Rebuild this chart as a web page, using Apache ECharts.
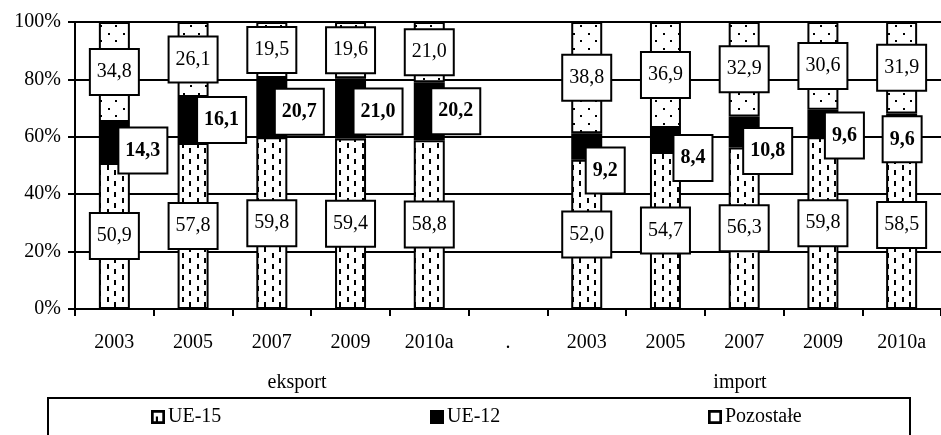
<!DOCTYPE html>
<html>
<head>
<meta charset="utf-8">
<script src="https://cdn.jsdelivr.net/npm/echarts@6/dist/echarts.min.js"></script>
<style>
html, body { margin: 0; padding: 0; background: #fff; }
#chart { width: 941px; height: 435px; }
</style>
</head>
<body>
<div id="chart"></div>
<script>
var categories = ['2003', '2005', '2007', '2009', '2010a', '.', '2003', '2005', '2007', '2009', '2010a'];
var ue15 = [50.9, 57.8, 59.8, 59.4, 58.8, '-', 52.0, 54.7, 56.3, 59.8, 58.5];
var ue12 = [14.3, 16.1, 20.7, 21.0, 20.2, '-', 9.2, 8.4, 10.8, 9.6, 9.6];
var pozostale = [34.8, 26.1, 19.5, 19.6, 21.0, '-', 38.8, 36.9, 32.9, 30.6, 31.9];
var groups = ['eksport', 'import'];
var seriesNames = ['UE-15', 'UE-12', 'Pozostałe'];

// where the bold UE-12 boxes sit, relative to the middle of the black segment
var ue12Shift = [[5, 8], [5, 0], [4, 4], [4, 3], [3, 0], [0, 0], [0, 24], [9, 18], [0, 19], [3, 12], [-18, 12]];

var font = 'Liberation Serif, Times New Roman, serif';
var fs = 20;

function makePattern(draw, w, h) {
    var c = document.createElement('canvas');
    c.width = w; c.height = h;
    var ctx = c.getContext('2d');
    ctx.fillStyle = '#fff';
    ctx.fillRect(0, 0, w, h);
    ctx.fillStyle = '#000';
    draw(ctx);
    return {image: c, repeat: 'repeat'};
}

var dashFill = makePattern(function (ctx) {
    ctx.fillRect(2, 0, 2, 5);
    ctx.fillRect(2, 11, 2, 5);
    ctx.fillRect(9, 5, 2, 5);
    ctx.fillRect(9, 16, 2, 5);
}, 15, 22);

var dotFill = makePattern(function (ctx) {
    ctx.fillRect(3, 3, 2, 2);
    ctx.fillRect(10, 10, 2, 2);
}, 15, 15);

function fmt(p) {
    return p.value.toFixed(1).replace('.', ',');
}

var boxLabel = {
    show: true,
    color: '#000',
    fontFamily: font,
    fontSize: fs,
    lineHeight: 20,
    backgroundColor: '#fff',
    borderColor: '#000',
    borderWidth: 2,
    padding: [12, 6, 12, 6],
    formatter: fmt
};

var ue12Data = ue12.map(function (v, i) {
    if (v === '-') return {value: v};
    return {value: v, label: {offset: ue12Shift[i]}};
});

var myChart = echarts.init(document.getElementById('chart'));

// hollow frames for the legend keys, as in the source
var frame = 'M0,0H13V13H0Z M2.5,2.5V10.5H10.5V2.5Z';
var legendIcons = [
    'path://' + frame + ' M4.5,6H6.5V10.5H4.5Z',
    'rect',
    'path://' + frame
];

option = {
    animation: false,
    textStyle: {fontFamily: font},
    grid: {left: 75, right: -6, top: 22, bottom: 126},
    xAxis: {
        type: 'category',
        data: categories,
        axisLine: {lineStyle: {color: '#000', width: 2}},
        axisTick: {show: true, length: 7, lineStyle: {color: '#000', width: 2}},
        axisLabel: {color: '#000', fontFamily: font, fontSize: fs, margin: 24, interval: 0}
    },
    yAxis: {
        type: 'value',
        min: 0,
        max: 100,
        interval: 20,
        axisLine: {show: true, lineStyle: {color: '#000', width: 2}},
        axisTick: {show: true, length: 7, lineStyle: {color: '#000', width: 2}},
        axisLabel: {color: '#000', fontFamily: font, fontSize: fs, margin: 14, formatter: '{value}%'},
        splitLine: {lineStyle: {color: '#000', width: 2}}
    },
    legend: [151, 430, 708].map(function (x, i) {
        return {
            left: x,
            top: 407,
            data: [{name: seriesNames[i], icon: legendIcons[i], itemStyle: {color: '#000', borderWidth: 0}}],
            itemWidth: 14,
            itemHeight: 14,
            itemGap: 3,
            padding: 0,
            textStyle: {color: '#000', fontFamily: font, fontSize: fs, padding: [0, 0, 0, -2]}
        };
    }),
    graphic: [
        {type: 'rect', shape: {x: 48, y: 398, width: 862, height: 60},
         style: {fill: 'none', stroke: '#000', lineWidth: 2}},
        {type: 'text', x: 297, y: 383, style: {text: groups[0], font: fs + 'px ' + font, fill: '#000', textAlign: 'center', textVerticalAlign: 'middle'}},
        {type: 'text', x: 740, y: 383, style: {text: groups[1], font: fs + 'px ' + font, fill: '#000', textAlign: 'center', textVerticalAlign: 'middle'}}
    ],
    series: [
        {
            name: seriesNames[0],
            type: 'bar',
            stack: 'a',
            barWidth: 31,
            data: ue15,
            itemStyle: {color: dashFill, borderColor: '#000', borderWidth: 2},
            label: Object.assign({}, boxLabel, {position: 'inside'})
        },
        {
            name: seriesNames[1],
            type: 'bar',
            stack: 'a',
            barWidth: 31,
            data: ue12Data,
            itemStyle: {color: '#000', borderColor: '#000', borderWidth: 2},
            label: Object.assign({}, boxLabel, {
                position: ['50%', '50%'],
                align: 'left',
                verticalAlign: 'middle',
                fontWeight: 'bold'
            })
        },
        {
            name: seriesNames[2],
            type: 'bar',
            stack: 'a',
            barWidth: 31,
            data: pozostale,
            itemStyle: {color: dotFill, borderColor: '#000', borderWidth: 2},
            label: Object.assign({}, boxLabel, {position: 'inside'})
        }
    ]
};
myChart.setOption(option);
</script>
</body>
</html>
